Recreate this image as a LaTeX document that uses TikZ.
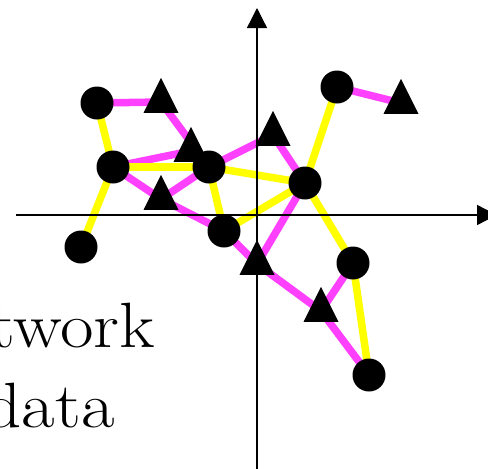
\documentclass[tikz,border=0pt]{standalone}
\usepackage{fontspec}
\usepackage{tikz}
\usetikzlibrary{arrows.meta,shapes.geometric}
\definecolor{linkpink}{RGB}{255,64,255}
\definecolor{linkyel}{RGB}{255,255,0}
\pgfdeclarelayer{background}
\pgfsetlayers{background,main}

\begin{document}
\begin{tikzpicture}[
  x=1pt,y=-1pt,
  ci/.style={circle,fill=black,minimum size=33pt,inner sep=0pt},
  tr/.style={isosceles triangle,isosceles triangle stretches,shape border rotate=90,
    fill=black,minimum width=35pt,minimum height=35pt,inner sep=0pt},
  pk/.style={draw=linkpink,line width=7.5pt},
  yl/.style={draw=linkyel,line width=7.5pt},
  ax/.style={draw=black,line width=1.3pt,-{Triangle[width=20pt,length=20pt]}},
  lbl/.style={font=\fontsize{64}{76}\selectfont,inner sep=0pt,anchor=base east,
    xscale=1.14,transform shape}
]
\useasboundingbox (0,0) rectangle (488,469);
% axes
\coordinate (xa) at (16,215); \coordinate (xb) at (497,215);
\coordinate (ya) at (257,480); \coordinate (yb) at (257,8);
% points
\node[ci] (c1) at (97,103) {};
\node[ci] (c2) at (113,167) {};
\node[ci] (c3) at (209,167) {};
\node[ci] (c4) at (224,231) {};
\node[ci] (c5) at (81,247) {};
\node[ci] (c6) at (337,87) {};
\node[ci] (c7) at (305,183) {};
\node[ci] (c8) at (353,263) {};
\node[ci] (c9) at (369,375) {};
\node[tr] (t1) at (161,102) {};
\node[tr] (t2) at (191,151) {};
\node[tr] (t3) at (161,199) {};
\node[tr] (t4) at (401,103) {};
\node[tr] (t5) at (273,135) {};
\node[tr] (t6) at (257,264) {};
\node[tr] (t7) at (321,311) {};
\begin{pgfonlayer}{background}
\foreach \a/\b in {c1/t1,t1/c3,c2/t2,c2/t3,t3/c3,t3/c4,c3/t5,t5/c7,c6/t4,c7/t6,c4/t6,t6/t7,t7/c8,t7/c9}
  \draw[pk] (\a.center) -- (\b.center);
\foreach \a/\b in {c1/c2,c2/c5,c2/c3,c3/c7,c3/c4,c4/c7,c7/c6,c7/c8,c8/c9}
  \draw[yl] (\a.center) -- (\b.center);
\draw[ax] (xa) -- (xb);
\draw[ax] (ya) -- (yb);
\end{pgfonlayer}
\node[lbl] (lnet) at (155,347) {network};
\node[lbl] (ldat) at (115,427) {data};
\end{tikzpicture}
\end{document}
